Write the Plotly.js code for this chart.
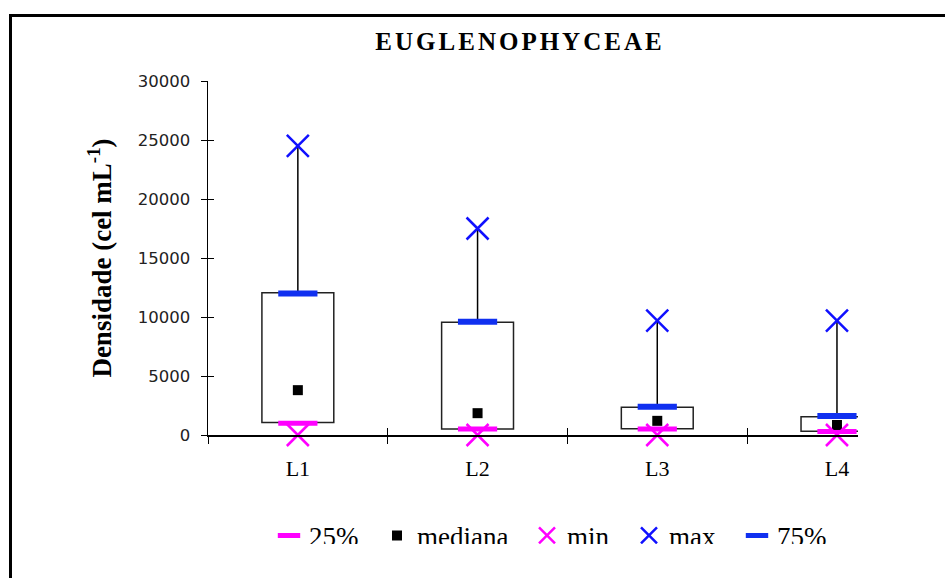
<!DOCTYPE html>
<html>
<head>
<meta charset="utf-8">
<script src="https://cdn.plot.ly/plotly-3.0.1.min.js"></script>
<style>
  html, body { margin:0; padding:0; background:#fff; }
  #wrap { position:relative; width:945px; height:578px; overflow:hidden; }
  #chart { position:absolute; left:0; top:0; width:945px; height:578px; }
  #frame { position:absolute; left:9px; top:14px; width:940px; height:570px;
           border-left:3px solid #000; border-top:3px solid #000; pointer-events:none; }
  #legclip { position:absolute; left:262px; top:544px; width:580px; height:20px; background:#fff; pointer-events:none; }
  .gtitle { letter-spacing: 3px; }
</style>
</head>
<body>
<div id="wrap">
  <div id="chart"></div>
  <div id="legclip"></div>
  <div id="frame"></div>
</div>
<script>
// ---- data ----
const categories = ['L1', 'L2', 'L3', 'L4'];
const p25    = [1000, 500, 500, 300];
const median = [3800, 1850, 1200, 850];
const minV   = [0, 0, 0, 0];
const maxV   = [24500, 17500, 9700, 9700];
const p75    = [12000, 9600, 2400, 1600];
const boxLow = [1050, 500, 530, 310];
const boxHigh= [12050, 9550, 2350, 1550];
const yTicks = [0, 5000, 10000, 15000, 20000, 25000, 30000];
const seriesNames = ['25%', 'mediana', 'min', 'max', '75%'];

const serif = 'Liberation Serif, Times New Roman, serif';

const boxTrace = {
  type: 'bar', x: categories,
  y: boxHigh.map((v, i) => v - boxLow[i]), base: boxLow,
  width: 0.4, marker: {color: '#ffffff', line: {color: '#222222', width: 1.5}},
  showlegend: false, hoverinfo: 'skip'
};
const whisker = {
  type: 'scatter', mode: 'markers', x: categories, y: p75,
  marker: {size: 1, opacity: 0},
  error_y: {type: 'data', symmetric: false, array: maxV.map((v, i) => v - p75[i]),
            arrayminus: p75.map(() => 0), width: 0, thickness: 1.5, color: '#000000'},
  showlegend: false, hoverinfo: 'skip'
};
const t25 = {
  type: 'scatter', mode: 'markers', name: seriesNames[0], legend: 'legend', x: categories, y: p25, cliponaxis: false,
  marker: {symbol: 'line-ew', size: 28, line: {color: '#ff00ff', width: 5}}
};
const tMed = {
  type: 'scatter', mode: 'markers', name: seriesNames[1], legend: 'legend2', x: categories, y: median, cliponaxis: false,
  marker: {symbol: 'square', size: 10, color: '#000000'}
};
const tMin = {
  type: 'scatter', mode: 'markers', name: seriesNames[2], legend: 'legend3', x: categories, y: minV, cliponaxis: false,
  marker: {symbol: 'x-thin', size: 22, line: {color: '#ff00ff', width: 2.5}}
};
const tMax = {
  type: 'scatter', mode: 'markers', name: seriesNames[3], legend: 'legend4', x: categories, y: maxV, cliponaxis: false,
  marker: {symbol: 'x-thin', size: 22, line: {color: '#1010ff', width: 2.5}}
};
const t75 = {
  type: 'scatter', mode: 'markers', name: seriesNames[4], legend: 'legend5', x: categories, y: p75, cliponaxis: false,
  marker: {symbol: 'line-ew', size: 28, line: {color: '#1030f0', width: 6}}
};
// invisible helper on the overlay axes so their (inner) ticks are drawn
const helper = {
  type: 'scatter', mode: 'markers', x: categories, y: p75, xaxis: 'x2', yaxis: 'y2',
  marker: {opacity: 0, size: 1}, showlegend: false, hoverinfo: 'skip'
};

const xRange = [-0.5, 3.117];
const yRange = [0, 30000];

// legend placement (pixel x of each legend box, converted to paper units)
const plotL = 208, plotW = 945 - 208 - 87;
function leg(px) {
  return {
    orientation: 'h', xref: 'paper', yref: 'paper', x: (px - plotL) / plotW, xanchor: 'left',
    y: -0.285, yanchor: 'middle',
    font: {family: serif, size: 27, color: '#000'}, bgcolor: 'rgba(0,0,0,0)', itemclick: false
  };
}

const layout = {
  width: 945, height: 578,
  margin: {l: 208, r: 87, t: 81, b: 143},
  paper_bgcolor: '#ffffff', plot_bgcolor: 'rgba(0,0,0,0)',
  showlegend: true,
  title: {text: '<b>EUGLENOPHYCEAE</b>', font: {family: serif, size: 25, color: '#000'},
          xref: 'paper', x: 0.48, xanchor: 'center', yref: 'container', y: 0.929, yanchor: 'middle'},
  xaxis: {
    type: 'category', categoryarray: categories, range: xRange,
    showline: true, linecolor: '#000', linewidth: 1.5, showgrid: false, zeroline: false,
    ticks: 'outside', tickson: 'boundaries', ticklen: 7, tickwidth: 1, tickcolor: '#000',
    ticklabelstandoff: 13,
    tickfont: {family: serif, size: 22, color: '#000'}
  },
  yaxis: {
    range: yRange, tickmode: 'array', tickvals: yTicks, ticktext: yTicks.map(String),
    showline: true, linecolor: '#000', linewidth: 1.5, showgrid: false, zeroline: false,
    ticks: 'outside', ticklen: 6, tickwidth: 1, tickcolor: '#000',
    ticklabelstandoff: 7,
    tickfont: {family: 'DejaVu Sans, Verdana, sans-serif', size: 16.5, color: '#222'},
    title: {text: '<b>Densidade (cel mL<sup>-1</sup>)</b>', font: {family: serif, size: 27, color: '#000'}, standoff: 18}
  },
  xaxis2: {
    type: 'category', categoryarray: categories, range: xRange, overlaying: 'x', anchor: 'y2',
    showline: false, showgrid: false, zeroline: false, showticklabels: false,
    ticks: 'inside', tickson: 'boundaries', ticklen: 7, tickwidth: 1, tickcolor: '#000'
  },
  yaxis2: {
    range: yRange, tickmode: 'array', tickvals: yTicks, overlaying: 'y', anchor: 'x2', side: 'left',
    showline: false, showgrid: false, zeroline: false, showticklabels: false,
    ticks: 'inside', ticklen: 6, tickwidth: 1, tickcolor: '#000'
  },
  legend: leg(269),
  legend2: leg(377),
  legend3: leg(527),
  legend4: leg(629),
  legend5: leg(737)
};

Plotly.newPlot('chart', [boxTrace, whisker, t25, tMed, tMin, tMax, t75, helper], layout,
  {displayModeBar: false, staticPlot: true});
</script>
</body>
</html>
